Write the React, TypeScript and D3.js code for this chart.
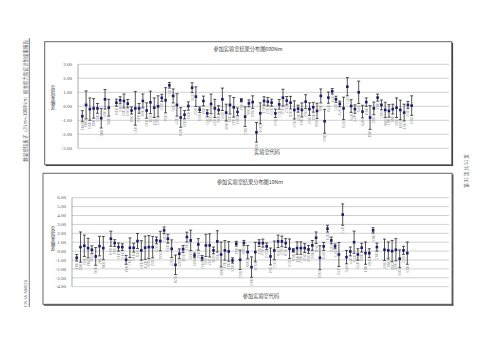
import React from 'react';
import * as d3 from 'd3';

const labCodes = [
  '001','002','003','004','005','006','007','008','009','010','011','012','013','014','015','016',
  '018','019','020','021','022','023','024','025','026','027','028','029','030','031','032','033','034','035','036','037','038','039','040','041','042','043','044','045','046',
  '048','049','050','051','052','053','054','055','056','057','058','059','060','061','062','063','064',
  '066',
  '068','069','070','071','072','073','074','075','076','077','078','079','080','081','082','083',
  '085','086','087','088','089','090','091','092','093'
];

const topValues: (number | null)[] = [
  -0.71, 0.10, -0.20, -0.15, -0.15, -0.85, 0.50, -0.10, null,
  0.26, 0.43, 0.38, 0.19, -0.30, -0.15, -0.15, 0.38, -0.30, 0.28, -0.10, 0.00, 0.60, 0.43, 1.50,
  0.74, 0.10, -0.80, -0.60, 0.02, 1.33, 0.69, -0.24, 0.38, -0.50, 0.17, -0.15, -0.26, 0.50, -0.45,
  0.10, -0.07, -0.40, 0.43, -0.74, 0.21, 0.30, -1.86, -0.50, 0.38, 0.33, 0.26, -0.50, 0.14, 0.62,
  0.40, 0.26, -0.26, -0.17, -0.26, 0.33, -0.20, -0.07, -0.33, 0.74, -1.07, 0.62, 1.07, 0.50, 0.17,
  -0.15, 1.40, 0.02, -0.20, 1.00, -0.38, 0.30, -0.80, -0.15, 0.62, 0.10, -0.26, -0.33, -0.20, -0.10,
  -0.26, -0.45, 0.10, 0.05
];
const topErrors: (number | null)[] = [
  0.4, 1.0, 0.8, 0.7, 0.35, 0.7, 0.7, 0.6, null,
  0.25, 0.25, 0.5, 0.3, 0.25, 1.2, 0.35, 0.5, 0.55, 0.8, 0.7, 0.75, 0.25, 0.9, 0.2, 0.5, 0.8, 0.7,
  0.3, 0.3, 0.35, 0.7, 0.2, 0.35, 0.25, 0.7, 0.65, 0.3, 0.8, 0.6, 0.65, 0.7, 0.28, 0.12, 0.7, 0.25,
  0.45, 0.7, 0.75, 0.3, 0.3, 0.25, 0.3, 0.35, 0.6, 0.3, 0.45, 0.65, 0.25, 0.5, 0.5, 0.45, 0.35,
  0.55, 0.5, 0.85, 0.4, 0.2, 0.22, 0.2, 0.8, 0.65, 0.45, 0.3, 0.8, 0.45, 0.3, 0.85, 0.45, 0.25,
  0.35, 0.55, 0.45, 0.35, 0.7, 0.7, 0.6, 0.25, 0.7
];

const bottomValues: (number | null)[] = [
  -0.75, 0.45, 0.60, 0.34, 0.15, -0.60, 0.56, 0.34, null,
  1.39, 0.90, 0.45, 0.45, -0.98, 0.38, 0.38, 1.13, 0.08, 0.38, 0.45, 0.45, 1.20, 1.13, 2.33, 1.39,
  0.26, -1.54, -0.30, 0.23, 1.58, 1.20, -0.49, 0.75, -0.79, 0.64, 0.64, 0.08, 1.09, -0.38, 0.08,
  -0.04, -1.05, 0.83, -0.98, 0.90, -0.11, -1.80, -0.11, 0.90, 0.90, 0.53, -0.60, 0.08, 1.09, 1.09,
  0.90, 0.26, 0.08, 0.34, 0.34, 0.34, 0.19, 0.64, 1.50, -0.75, 0.53, 2.52, 1.20, 0.53, -0.38, 4.10,
  -0.68, -0.04, 1.00, -0.38, 0.38, -0.23, -0.23, 2.33, 0.45, null,
  0.15, 0.08, 0.00, 0.15, -0.86, 0.08, -0.23
];
const bottomErrors: (number | null)[] = [
  0.37, 1.7, 1.2, 1.1, 0.45, 1.0, 1.1, 1.3, null,
  0.85, 0.38, 0.45, 0.38, 0.5, 1.1, 0.5, 0.85, 1.1, 1.3, 1.3, 1.2, 0.38, 1.1, 0.38, 0.5, 1.0, 1.1,
  0.55, 0.4, 0.55, 1.15, 0.27, 0.65, 0.3, 1.25, 1.3, 0.38, 1.2, 1.4, 1.1, 1.1, 0.3, 0.27, 1.1, 0.3,
  0.75, 1.15, 1.1, 0.38, 0.45, 0.38, 0.95, 1.05, 0.7, 0.6, 0.5, 1.1, 0.2, 0.7, 0.7, 0.5, 0.45,
  0.55, 0.65, 1.35, 0.45, 0.38, 0.38, 0.27, 1.35, 1.2, 0.75, 0.5, 1.25, 0.65, 0.5, 1.25, 0.5, 0.3,
  0.45, null,
  1.2, 0.95, 1.2, 1.25, 1.0, 0.45, 1.25
];

const topTicks = [3, 2, 1, 0, -1, -2, -3];
const bottomTicks = [6, 5, 4, 3, 2, 1, 0, -1, -2, -3, -4];

const topTitle = '参加实验室结果分布图600Nm';
const bottomTitle = '参加实验室结果分布图10Nm';
const topXTitle = '实验室代码';
const bottomXTitle = '参加实验室代码';
const yTitle = '实验室偏差';
const sideCode = 'CNAS SM026';
const sideTitle = '数显扭矩扳子（2Nm～1000Nm）校准能力验证计划结果报告';
const pageText = '第 31 页 共 51 页';

const CJK = '"Noto Sans CJK SC", sans-serif';
const SERIF = '"Liberation Serif", "DejaVu Serif", serif';

type PanelProps = {
  frame: { x: number; y: number; w: number; h: number };
  plotLeft: number;
  plotRight: number;
  firstX: number;
  lastX: number;
  yDomain: [number, number];
  yRange: [number, number];
  ticks: number[];
  values: (number | null)[];
  errors: (number | null)[];
  title: string;
  titleX: number;
  titleY: number;
  xTitle: string;
  xTitleX: number;
  xTitleY: number;
  yTitleX: number;
  yTitleY: number;
};

function Panel(p: PanelProps) {
  const n = labCodes.length;
  const step = (p.lastX - p.firstX) / (n - 1);
  const x = d3.scalePoint<string>().domain(labCodes).range([p.firstX, p.lastX]);
  const y = d3.scaleLinear().domain(p.yDomain).range(p.yRange);
  const { frame } = p;
  const pts = labCodes.map((c, i) => ({ c, v: p.values[i], e: p.errors[i] })).filter(d => d.v !== null && d.e !== null) as { c: string; v: number; e: number }[];
  const cap = 1.5;
  return (
    <g>
      <rect x={frame.x} y={frame.y} width={frame.w} height={frame.h} fill="#fff" stroke="#666" strokeWidth={1} />
      <line x1={frame.x + frame.w + 0.8} x2={frame.x + frame.w + 0.8} y1={frame.y + 1} y2={frame.y + frame.h + 1.3} stroke="#444" strokeWidth={1.2} />
      <line x1={frame.x + 1} x2={frame.x + frame.w + 1.4} y1={frame.y + frame.h + 0.8} y2={frame.y + frame.h + 0.8} stroke="#444" strokeWidth={1.2} />
      <text x={p.titleX} y={p.titleY} fontFamily={CJK} fontSize={5.2} fill="#444" textAnchor="middle">{p.title}</text>
      {p.ticks.map(t => (
        <g key={t}>
          <line x1={p.plotLeft} x2={p.plotRight} y1={y(t)} y2={y(t)} stroke="#bdbdbd" strokeWidth={0.7} />
          <text x={p.plotLeft - 6} y={y(t) + 1.7} fontFamily={SERIF} fontSize={5} fill="#555" textAnchor="end">{t.toFixed(2)}</text>
        </g>
      ))}
      <line x1={p.plotLeft} x2={p.plotLeft} y1={y(p.ticks[0])} y2={y(p.ticks[p.ticks.length - 1])} stroke="#888" strokeWidth={0.7} />
      {pts.map(d => {
        const cx = x(d.c) as number;
        const yt = y(d.v + d.e);
        const yb = y(d.v - d.e);
        const yv = y(d.v);
        return (
          <g key={d.c}>
            <line x1={cx} x2={cx} y1={yt} y2={yb} stroke="#2a2a2a" strokeWidth={0.8} />
            <line x1={cx - cap} x2={cx + cap} y1={yt} y2={yt} stroke="#2a2a2a" strokeWidth={0.8} />
            <line x1={cx - cap} x2={cx + cap} y1={yb} y2={yb} stroke="#2a2a2a" strokeWidth={0.8} />
            <rect x={cx - 1.3} y={yv - 1.3} width={2.6} height={2.6} fill="#1c1c6e" />
            <text transform={`translate(${cx - 1.6},${yb + 1.5}) rotate(90)`} fontFamily={SERIF} fontSize={4.6} fill="#8a8a8a">{d.c}</text>
          </g>
        );
      })}
      <text x={p.xTitleX} y={p.xTitleY} fontFamily={CJK} fontSize={5.2} fill="#444" textAnchor="middle">{p.xTitle}</text>
      {Array.from(yTitle).map((ch, i) => (
        <text key={i} x={p.yTitleX} y={p.yTitleY + i * 5} fontFamily={CJK} fontSize={4.6} fill="#444" textAnchor="middle">{ch}</text>
      ))}
      <g data-step={step} />
    </g>
  );
}

export default function App() {
  return (
    <svg width={500} height={354} viewBox="0 0 500 354" style={{ position: 'absolute', left: 0, top: 0, background: '#fff' }}>
      <rect x={0} y={0} width={500} height={354} fill="#fff" />
      <line x1={29.3} x2={29.3} y1={38} y2={307} stroke="#555" strokeWidth={0.8} />
      <text transform="translate(27,307) rotate(-90)" fontFamily={SERIF} fontSize={4.6} fill="#555" textAnchor="start">{sideCode}</text>
      <text transform="translate(27,40) rotate(-90)" fontFamily={CJK} fontSize={4.5} fill="#555" textAnchor="end">{sideTitle}</text>
      <text transform="translate(468,171) rotate(-90)" fontFamily={CJK} fontSize={4.6} fill="#555" textAnchor="middle">{pageText}</text>
      <Panel
        frame={{ x: 44.7, y: 41.7, w: 407, h: 123 }}
        plotLeft={78}
        plotRight={449}
        firstX={82.3}
        lastX={411.7}
        yDomain={[-3, 3]}
        yRange={[148.3, 64.3]}
        ticks={topTicks}
        values={topValues}
        errors={topErrors}
        title={topTitle}
        titleX={248}
        titleY={50.5}
        xTitle={topXTitle}
        xTitleX={267}
        xTitleY={154}
        yTitleX={53}
        yTitleY={89}
      />
      <Panel
        frame={{ x: 43, y: 173.3, w: 409, h: 131 }}
        plotLeft={72}
        plotRight={449}
        firstX={76.7}
        lastX={407.3}
        yDomain={[-4, 6]}
        yRange={[286.7, 197.7]}
        ticks={bottomTicks}
        values={bottomValues}
        errors={bottomErrors}
        title={bottomTitle}
        titleX={250}
        titleY={183.5}
        xTitle={bottomXTitle}
        xTitleX={261}
        xTitleY={298}
        yTitleX={53}
        yTitleY={230}
      />
    </svg>
  );
}
